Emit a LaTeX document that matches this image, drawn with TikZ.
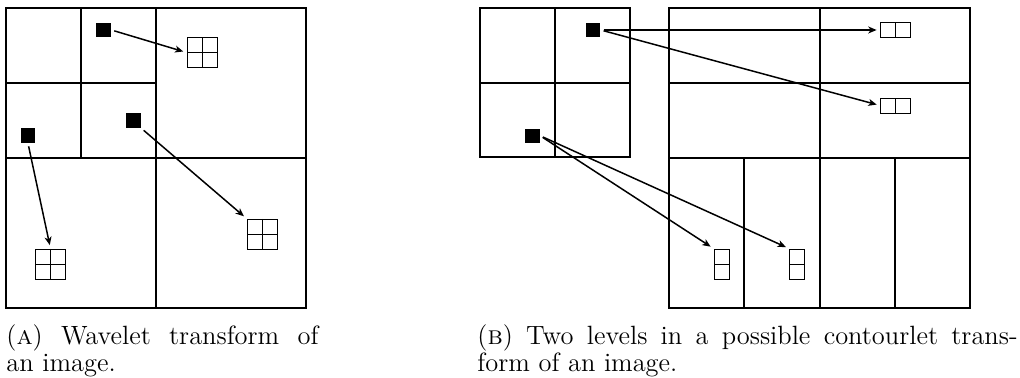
\documentclass[tikz,border=0pt]{standalone}
\usetikzlibrary{arrows.meta}
\begin{document}
\begin{tikzpicture}[x=0.435pt,y=-0.435pt,
  frame/.style={line width=0.75pt},
  blk/.style={fill=black,draw=none,minimum size=6.3pt,inner sep=0pt},
  quad/.style={draw,line width=0.4pt,minimum size=13.05pt,inner sep=0pt,
    path picture={\draw[line width=0.4pt] (path picture bounding box.north) -- (path picture bounding box.south)
      (path picture bounding box.west) -- (path picture bounding box.east);}},
  hcell/.style={draw,line width=0.4pt,minimum width=13.05pt,minimum height=6.5pt,inner sep=0pt,
    path picture={\draw[line width=0.4pt] (path picture bounding box.north) -- (path picture bounding box.south);}},
  vcell/.style={draw,line width=0.4pt,minimum width=6.5pt,minimum height=13.05pt,inner sep=0pt,
    path picture={\draw[line width=0.4pt] (path picture bounding box.west) -- (path picture bounding box.east);}},
  arr/.style={line width=0.65pt,-{Stealth[length=3.6pt,width=3pt,inset=1pt]},shorten <=1.3pt,shorten >=1.5pt},
  captxt/.style={anchor=north west,inner sep=0pt,align=justify,font=\fontsize{11.5}{11.8}\selectfont}
]
\useasboundingbox (0,0) rectangle (1020,378);

% ---- Panel A ----
\draw[frame] (6,8) rectangle (306,308);
\draw[frame] (156,8) -- (156,308);
\draw[frame] (6,158) -- (306,158);
\draw[frame] (81,8) -- (81,158);
\draw[frame] (6,83) -- (156,83);

\node[blk] (s1) at (103.7,30) {};
\node[blk] (s2) at (133.7,120.7) {};
\node[blk] (s3) at (28,135.7) {};
\node[quad] (t1) at (202,52.5) {};
\node[quad] (t2) at (262,234) {};
\node[quad] (t3) at (50.5,264) {};
\draw[arr] (s1.east) -- (t1.west);
\draw[arr] (s2.south east) -- (t2.north west);
\draw[arr] (s3.south) -- (t3.north);

% ---- Panel B, left ----
\draw[frame] (480,8) rectangle (630,157);
\draw[frame] (555,8) -- (555,157);
\draw[frame] (480,83) -- (630,83);

% ---- Panel B, right ----
\draw[frame] (669,8) rectangle (970,308);
\draw[frame] (820,8) -- (820,308);
\draw[frame] (669,83) -- (970,83);
\draw[frame] (669,158) -- (970,158);
\draw[frame] (744,158) -- (744,308);
\draw[frame] (895,158) -- (895,308);

\node[blk] (p1) at (593,30) {};
\node[blk] (p2) at (532.5,135.8) {};
\node[hcell] (u1) at (895.5,30) {};
\node[hcell] (u2) at (895.5,105.5) {};
\node[vcell] (v1) at (721.5,264) {};
\node[vcell] (v2) at (797,264) {};
\draw[arr] (p1.east) -- (u1.west);
\draw[arr] (p1.east) -- (u2.west);
\draw[arr] (p2.east) -- (v1.north west);
\draw[arr] (p2.east) -- (v2.north west);

% ---- Captions ----
\node[captxt,text width=135.7pt] (capa) at (6,324) {(\textsc{a}) Wavelet transform of\linebreak an image.};
\node[captxt,text width=235pt] (capb) at (477,324) {(\textsc{b}) Two levels in a possible contourlet trans-\linebreak form of an image.};
\end{tikzpicture}
\end{document}
